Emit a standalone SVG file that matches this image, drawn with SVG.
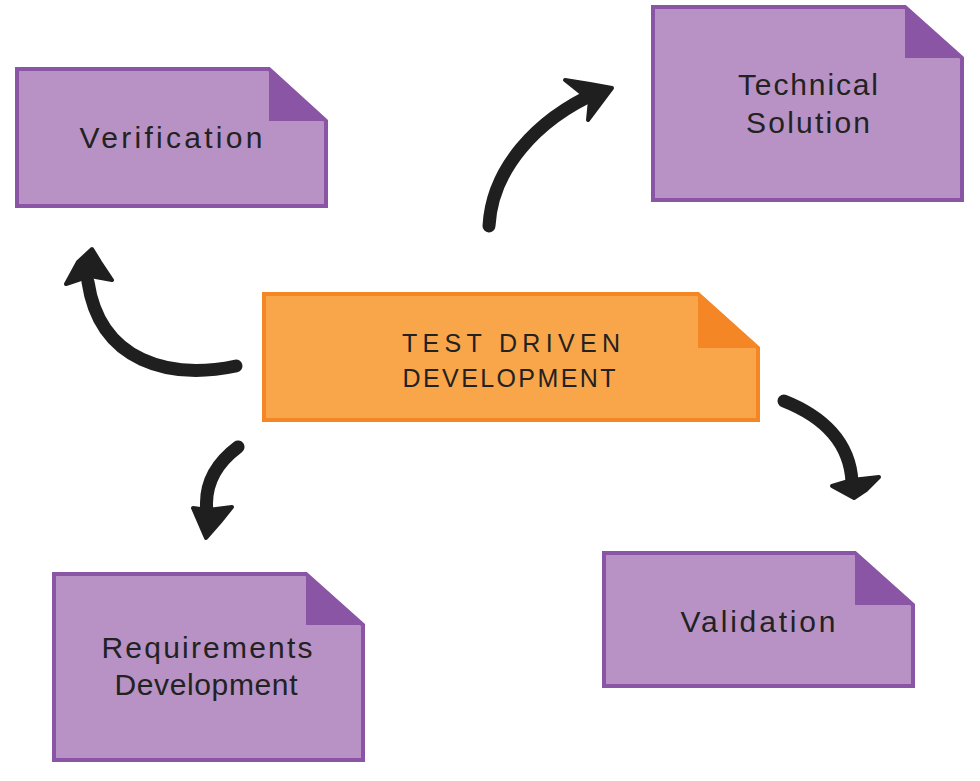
<svg xmlns="http://www.w3.org/2000/svg" width="980" height="781" viewBox="0 0 980 781">
<style>
.note{fill:#B892C4;stroke:#8B55A5;stroke-width:4;stroke-linejoin:miter}
.fold{fill:#8B55A5}
.core{fill:#F9A64B;stroke:#F48626;stroke-width:4}
.corefold{fill:#F48626}
.lbl{font-family:"Liberation Sans","DejaVu Sans",sans-serif;font-size:30px;fill:#222;text-anchor:middle}
.cap{font-family:"Liberation Sans","DejaVu Sans",sans-serif;font-size:25px;fill:#222;text-anchor:middle}
.stroke{fill:none;stroke:#1f1f1f;stroke-width:13;stroke-linecap:round}
.head{fill:#1f1f1f;stroke:#1f1f1f;stroke-width:4;stroke-linejoin:round}
</style>
<rect width="980" height="781" fill="#fff"/>
<g id="connectors">
  <path class="stroke" d="M236,366 C170,380 100,362 88,282"/>
  <path class="head" d="M92,249 L100,262 L112,280 L90,276 L66,284 L78,262 Z"/>
  <path class="stroke" d="M489,226 C492,170 535,120 598,92"/>
  <path class="head" d="M612,88 L588,120 L590,100 L565,80 L590,84 Z"/>
  <path class="stroke" d="M784,401 C822,416 850,442 852,482"/>
  <path class="head" d="M854,498 L832,486 L852,480 L879,477 L866,490 Z"/>
  <path class="stroke" d="M238,447 C214,465 204,487 207,512"/>
  <path class="head" d="M206,538 L193,508 L208,510 L232,507 L220,522 Z"/>
</g>
<g id="verification">
  <path class="note" d="M17,69 H269 L326,121 V206 H17 Z"/>
  <path class="fold" d="M269,67 L328,121 H269 Z"/>
  <text class="lbl" x="171" y="148" textLength="183" lengthAdjust="spacing">Verification</text>
</g>
<g id="technical-solution">
  <path class="note" d="M653,7 H905 L962,58 V200 H653 Z"/>
  <path class="fold" d="M905,5 L964,58 H905 Z"/>
  <text class="lbl" x="808" y="95" textLength="140" lengthAdjust="spacing">Technical</text>
  <text class="lbl" x="808" y="133" textLength="124" lengthAdjust="spacing">Solution</text>
</g>
<g id="tdd">
  <path class="core" d="M264,294 H698 L758,348 V420 H264 Z"/>
  <path class="corefold" d="M698,292 L760,348 H698 Z"/>
  <text class="cap" x="511" y="352" textLength="218" lengthAdjust="spacing">TEST DRIVEN</text>
  <text class="cap" x="509" y="387" textLength="213" lengthAdjust="spacing">DEVELOPMENT</text>
</g>
<g id="validation">
  <path class="note" d="M604,553 H855 L913,605 V686 H604 Z"/>
  <path class="fold" d="M855,551 L915,605 H855 Z"/>
  <text class="lbl" x="758" y="632" textLength="155" lengthAdjust="spacing">Validation</text>
</g>
<g id="requirements-development">
  <path class="note" d="M54,574 H306 L363,625 V760 H54 Z"/>
  <path class="fold" d="M306,572 L365,625 H306 Z"/>
  <text class="lbl" x="207" y="658" textLength="211" lengthAdjust="spacing">Requirements</text>
  <text class="lbl" x="206" y="695" textLength="183" lengthAdjust="spacing">Development</text>
</g>
</svg>
